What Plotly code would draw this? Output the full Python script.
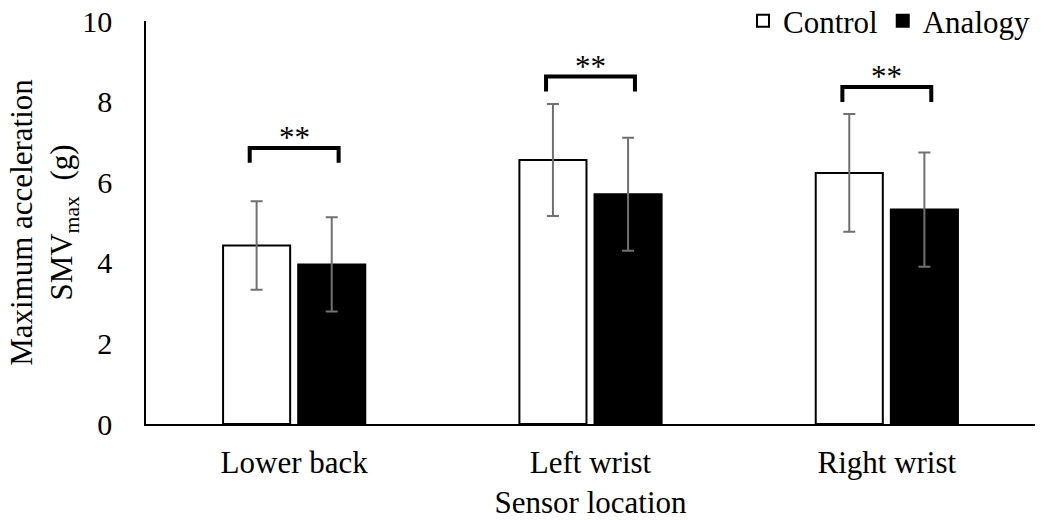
import plotly.graph_objects as go

categories = ["Lower back", "Left wrist", "Right wrist"]
control_mean = [4.43, 6.55, 6.23]
control_sd = [1.10, 1.39, 1.46]
analogy_mean = [3.96, 5.70, 5.32]
analogy_sd = [1.17, 1.40, 1.42]
bracket_top = [6.85, 8.62, 8.36]
bracket_drop = 0.37
sig_labels = ["**", "**", "**"]
yticks = [0, 2, 4, 6, 8, 10]

FONT = "Liberation Serif, Times New Roman, serif"
xpos = list(range(len(categories)))

fig = go.Figure()
fig.add_trace(go.Bar(
    x=xpos, y=control_mean, name="Control",
    marker=dict(color="white", line=dict(color="black", width=2)),
    error_y=dict(type="data", array=control_sd, color="#707070", thickness=2, width=6),
))
fig.add_trace(go.Bar(
    x=xpos, y=analogy_mean, name="Analogy",
    marker=dict(color="black", line=dict(color="black", width=2)),
    error_y=dict(type="data", array=analogy_sd, color="#707070", thickness=2, width=6),
))

half = 0.15
for i, top in enumerate(bracket_top):
    fig.add_trace(go.Scatter(
        x=[i - half, i - half, i + half, i + half],
        y=[top - bracket_drop, top, top, top - bracket_drop],
        mode="lines", line=dict(color="black", width=4),
        showlegend=False, hoverinfo="skip",
    ))
    fig.add_annotation(x=i, y=top, text=sig_labels[i], showarrow=False,
                       yanchor="bottom", yshift=-9,
                       font=dict(family=FONT, size=31, color="black"))

fig.update_layout(
    width=1041, height=520,
    margin=dict(l=146, r=6, t=21, b=96, autoexpand=False),
    paper_bgcolor="white", plot_bgcolor="white",
    barmode="group", bargap=0.493, bargroupgap=0.107,
    font=dict(family=FONT, size=31, color="black"),
    showlegend=True,
    legend=dict(orientation="h", x=1.0, xanchor="right", y=1.0, yanchor="middle",
                font=dict(size=31), itemwidth=30, bgcolor="rgba(0,0,0,0)",
                tracegroupgap=0),
    xaxis=dict(range=[-0.5, 2.5], tickvals=xpos, ticktext=categories,
               showline=True, linecolor="black", linewidth=1.5,
               ticks="", showgrid=False, zeroline=False,
               ticklabelstandoff=10,
               title=dict(text="Sensor location", standoff=13,
                          font=dict(size=31)),
               tickfont=dict(size=31)),
    yaxis=dict(range=[0, 10], tickvals=yticks, showline=True, linecolor="black",
               linewidth=1.5, ticks="", showgrid=False, zeroline=False,
               ticklabelstandoff=26, tickfont=dict(size=30),
               title=dict(text="Maximum acceleration<br>SMV<sub>max</sub>  (g)",
                          standoff=0, font=dict(size=31))),
)

fig.write_html("out.html")
